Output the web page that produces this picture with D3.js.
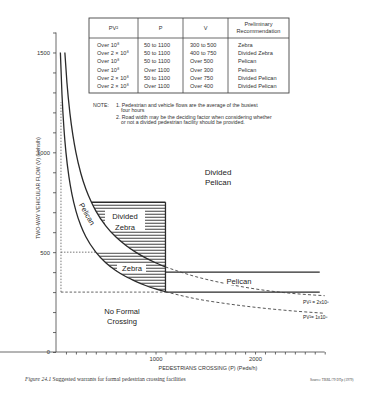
<!DOCTYPE html>
<html><head><meta charset="utf-8">
<script src="https://cdn.jsdelivr.net/npm/d3@7"></script>
<style>
html,body{margin:0;padding:0;background:#fff;}
svg{display:block;font-family:"Liberation Sans",Arial,sans-serif;}
</style></head><body>
<svg id="c" width="374" height="396"></svg>
<script>
// ---- data ----
const tableHeader = ["PV²", "P", "V", "Preliminary|Recommendation"];
const tablePV = ["Over 10⁸", "Over 2 × 10⁸", "Over 10⁸", "Over 10⁸", "Over 2 × 10⁸", "Over 2 × 10⁸"];
const tableP = ["50 to 1100", "50 to 1100", "50 to 1100", "Over 1100", "50 to 1100", "Over 1100"];
const tableV = ["300 to 500", "400 to 750", "Over 500", "Over 300", "Over 750", "Over 400"];
const tableRec = ["Zebra", "Divided Zebra", "Pelican", "Pelican", "Divided Pelican", "Divided Pelican"];

// PV^2 = 1x10^8 boundary (solid part, then dashed continuation)
const lowerP = [44, 60, 80, 100, 130, 160, 200, 250, 300, 400, 500, 600, 700, 800, 900, 1000, 1100];
const lowerV = [1500, 1291, 1118, 1000, 877, 791, 707, 632, 577, 500, 447, 408, 378, 354, 333, 316, 302];
const lowerDashP = [1100, 1400, 1700, 2000, 2300, 2700];
const lowerDashV = [302, 267, 243, 224, 209, 194];
// PV^2 = 2x10^8 boundary
const upperP = [89, 110, 140, 170, 200, 250, 300, 356, 400, 500, 600, 700, 800, 900, 1000, 1100];
const upperV = [1500, 1348, 1195, 1085, 1000, 894, 816, 750, 707, 632, 577, 535, 500, 471, 447, 426];
const upperDashP = [1100, 1400, 1700, 2000, 2300, 2700];
const upperDashV = [426, 378, 343, 316, 297, 282];

const pMin = 50, pMax = 1100, vZebraLow = 300, vZebraHigh = 500, vDivZebraHigh = 750;
const vPelicanOver1100 = 300, vDivPelicanOver1100 = 400, pLineEnd = 2650;

const xTickLabels = [1000, 2000];
const yTickLabels = [0, 500, 1000, 1500];

// ---- drawing ----
const svg = d3.select("#c");
const ink = "#2a2a2a";
const x = d3.scaleLinear().domain([0, 2700]).range([56, 324.7]);
const y = d3.scaleLinear().domain([0, 1600]).range([352, 32.5]);

// table
const tx0 = 89, tx1 = 289, ty0 = 18, ty1 = 93, thead = 38;
const colX = [89, 138, 183, 228, 289];
const tg = svg.append("g").attr("fill", "#333").style("font-size", "5.6px");
tg.append("rect").attr("x", tx0).attr("y", ty0).attr("width", tx1 - tx0).attr("height", ty1 - ty0)
  .attr("fill", "none").attr("stroke", "#444").attr("stroke-width", 0.9);
tg.append("line").attr("x1", tx0).attr("x2", tx1).attr("y1", thead).attr("y2", thead).attr("stroke", "#444").attr("stroke-width", 0.8);
[1, 2, 3].forEach(i => tg.append("line").attr("x1", colX[i]).attr("x2", colX[i]).attr("y1", ty0).attr("y2", ty1).attr("stroke", "#444").attr("stroke-width", 0.8));
tableHeader.forEach((h, i) => {
  const cx = (colX[i] + colX[i + 1]) / 2;
  const parts = h.split("|");
  parts.forEach((p, j) => {
    tg.append("text").attr("x", cx).attr("y", parts.length === 1 ? 30 : 26 + j * 7)
      .attr("text-anchor", "middle").text(p);
  });
});
const colText = [tablePV, tableP, tableV, tableRec];
const colTextX = [97, 144, 190, 238];
colText.forEach((arr, i) => arr.forEach((t, r) => {
  tg.append("text").attr("x", colTextX[i]).attr("y", 47 + r * 8.2).text(t);
}));

// notes
const ng = svg.append("g").attr("fill", "#333").style("font-size", "5.2px");
ng.append("text").attr("x", 93).attr("y", 107).text("NOTE:");
ng.append("text").attr("x", 116).attr("y", 107).text("1. Pedestrian and vehicle flows are the average of the busiest");
ng.append("text").attr("x", 121).attr("y", 112).text("four hours");
ng.append("text").attr("x", 116).attr("y", 118.5).text("2. Road width may be the deciding factor when considering whether");
ng.append("text").attr("x", 121).attr("y", 123.5).text("or not a divided pedestrian facility should be provided.");

// hatched region clip
const lowerPts = lowerP.map((p, i) => [p, lowerV[i]]);
const upperPts = upperP.map((p, i) => [p, upperV[i]]);
const poly = [];
poly.push([356, vDivZebraHigh], [pMax, vDivZebraHigh], [pMax, 302]);
lowerPts.filter(d => d[0] >= 400).reverse().forEach(d => poly.push(d));
upperPts.filter(d => d[0] <= 800 && d[0] >= 356).reverse().forEach(d => poly.push(d));
const lineGen = d3.line().x(d => x(d[0])).y(d => y(d[1])).curve(d3.curveMonotoneX);
svg.append("clipPath").attr("id", "hclip").append("path")
  .attr("d", d3.line().x(d => x(d[0])).y(d => y(d[1])).curve(d3.curveLinear)(poly) + "Z");
const hg = svg.append("g").attr("clip-path", "url(#hclip)");
for (let yy = y(vDivZebraHigh); yy <= y(vZebraLow) + 0.5; yy += 3) {
  hg.append("line").attr("x1", x(0)).attr("x2", x(pMax)).attr("y1", yy).attr("y2", yy)
    .attr("stroke", ink).attr("stroke-width", 0.9);
}

// label backgrounds inside hatching
svg.append("rect").attr("x", 105).attr("y", 210).attr("width", 40).attr("height", 21).attr("fill", "#fff");
svg.append("rect").attr("x", 117).attr("y", 263).attr("width", 29).attr("height", 9).attr("fill", "#fff");

// dotted guides
const dot = g => g.attr("stroke", "#555").attr("stroke-width", 0.8).attr("stroke-dasharray", "1.5,1.5").attr("fill", "none");
dot(svg.append("line").attr("x1", x(pMin)).attr("x2", x(pMin)).attr("y1", y(vZebraLow)).attr("y2", y(1250)));
dot(svg.append("line").attr("x1", x(pMin)).attr("x2", x(400)).attr("y1", y(vZebraHigh)).attr("y2", y(vZebraHigh)));
svg.append("line").attr("x1", x(pMin)).attr("x2", x(pMax)).attr("y1", y(vZebraLow)).attr("y2", y(vZebraLow))
  .attr("stroke", "#555").attr("stroke-width", 0.9).attr("stroke-dasharray", "2.5,1.8");

// solid boundaries
const solid = s => s.attr("stroke", ink).attr("stroke-width", 1.3).attr("fill", "none");
solid(svg.append("path").attr("d", lineGen(lowerPts)));
solid(svg.append("path").attr("d", lineGen(upperPts)));
solid(svg.append("line").attr("x1", x(356)).attr("x2", x(pMax)).attr("y1", y(vDivZebraHigh)).attr("y2", y(vDivZebraHigh)));
solid(svg.append("line").attr("x1", x(pMax)).attr("x2", x(pMax)).attr("y1", y(vDivZebraHigh)).attr("y2", y(vZebraLow)));
solid(svg.append("line").attr("x1", x(pMax)).attr("x2", x(pLineEnd)).attr("y1", y(vDivPelicanOver1100)).attr("y2", y(vDivPelicanOver1100)));
solid(svg.append("line").attr("x1", x(pMax)).attr("x2", x(pLineEnd)).attr("y1", y(vPelicanOver1100)).attr("y2", y(vPelicanOver1100)));

// dashed continuations
const dash = s => s.attr("stroke", "#444").attr("stroke-width", 0.9).attr("fill", "none").attr("stroke-dasharray", "3,2.2");
dash(svg.append("path").attr("d", lineGen(upperDashP.map((p, i) => [p, upperDashV[i]]))));
dash(svg.append("path").attr("d", lineGen(lowerDashP.map((p, i) => [p, lowerDashV[i]]))));

// axes
const yAxis = d3.axisLeft(y).tickValues(d3.range(0, 1601, 100)).tickSize(3)
  .tickFormat(d => yTickLabels.includes(d) ? d : "");
const ya = svg.append("g").attr("transform", `translate(${x(0)},0)`).call(yAxis);
const xAxis = d3.axisBottom(x).tickValues(d3.range(100, 2701, 100)).tickSize(2.5)
  .tickFormat(d => xTickLabels.includes(d) ? d : "");
const xa = svg.append("g").attr("transform", `translate(0,${y(0)})`).call(xAxis);
[ya, xa].forEach(a => {
  a.selectAll("path,line").attr("stroke", "#444").attr("stroke-width", 0.8);
  a.selectAll("text").attr("fill", "#333").style("font-size", "5.8px").style("font-family", "Liberation Sans, Arial, sans-serif");
});
ya.select(".domain").attr("d", `M0,${y(1600)}V${y(0)}`);
xa.select(".domain").attr("d", `M0,0H${x(2700)}`);
xa.selectAll("text").attr("dy", "0.6em");

// axis titles
svg.append("text").attr("transform", `translate(40,188) rotate(-90)`).attr("text-anchor", "middle")
  .attr("fill", "#333").style("font-size", "5.2px").text("TWO-WAY VEHICULAR FLOW (V) (Vehs/h)");
svg.append("text").attr("x", 208).attr("y", 369.5).attr("text-anchor", "middle")
  .attr("fill", "#333").style("font-size", "5.4px").text("PEDESTRIANS CROSSING (P) (Peds/h)");

// region labels
const lab = (t, xx, yy, fs, anchor) => svg.append("text").attr("x", xx).attr("y", yy)
  .attr("text-anchor", anchor || "middle").attr("fill", "#222").style("font-size", fs + "px").text(t);
lab("Divided", 218, 175, 8); lab("Pelican", 218, 185, 8);
lab("Divided", 125, 219, 7.6); lab("Zebra", 125, 229.5, 7.6);
lab("Zebra", 132, 271, 7.6);
svg.append("rect").attr("x", 224).attr("y", 276).attr("width", 30).attr("height", 9).attr("fill", "#fff");
lab("Pelican", 239, 284, 7.6);
lab("No Formal", 122, 314, 7.6); lab("Crossing", 122, 324, 7.6);
svg.append("text").attr("transform", "translate(87,214) rotate(60)").attr("text-anchor", "middle")
  .attr("dy", "0.35em").attr("fill", "#222").style("font-size", "7.4px").text("Pelican");
lab("PV² = 2x10⁸", 303, 304, 4.8, "start");
lab("PV²= 1x10⁸", 303, 318.5, 4.8, "start");

// caption
const cap = svg.append("text").attr("x", 25).attr("y", 381).attr("fill", "#333")
  .style("font-family", "Liberation Serif, serif").style("font-size", "5.6px");
cap.append("tspan").style("font-style", "italic").text("Figure 24.1 ");
cap.append("tspan").text("Suggested warrants for formal pedestrian crossing facilities");
svg.append("text").attr("x", 310).attr("y", 381).attr("fill", "#444")
  .style("font-family", "Liberation Serif, serif").style("font-size", "3.6px").text("Source: TRRL/79 DTp (1979)");
</script>
</body></html>
